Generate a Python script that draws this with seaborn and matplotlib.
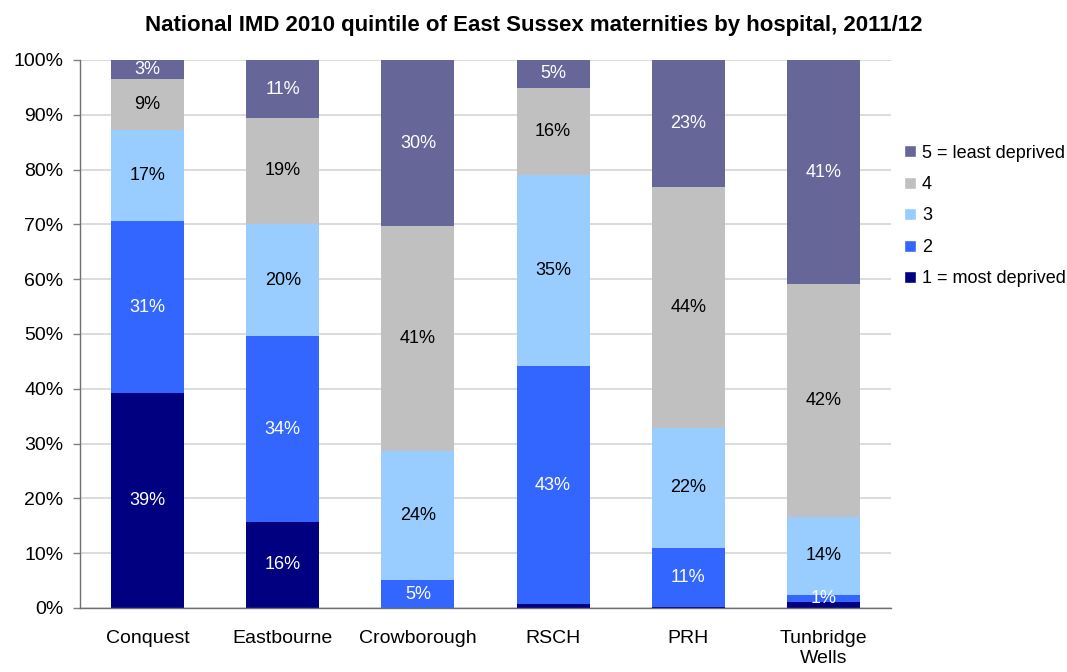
import numpy as np
import pandas as pd
import seaborn as sns
import matplotlib.pyplot as plt
from matplotlib.ticker import FixedLocator, PercentFormatter
from matplotlib.patches import Patch

# Share of maternities (%) per IMD quintile
hospitals = ["Conquest", "Eastbourne", "Crowborough", "RSCH", "PRH", "Tunbridge\nWells"]
q1_most = [39.2, 15.7, 0.0, 0.7, 0.2, 1.1]
q2 = [31.4, 33.9, 5.1, 43.4, 10.8, 1.3]
q3 = [16.6, 20.5, 23.6, 34.9, 21.9, 14.2]
q4 = [9.4, 19.3, 41.0, 15.9, 43.9, 42.5]
q5_least = [3.4, 10.6, 30.3, 5.1, 23.2, 40.9]

quintiles = ["1 = most deprived", "2", "3", "4", "5 = least deprived"]
colours = ["#000080", "#3366FF", "#99CCFF", "#C0C0C0", "#666699"]
label_colours = ["white", "white", "black", "black", "white"]

df = pd.DataFrame({"hospital": hospitals})
for name, vals in zip(quintiles, [q1_most, q2, q3, q4, q5_least]):
    df[name] = vals

sns.set_style("white")
plt.rcParams["font.family"] = ["Liberation Sans", "DejaVu Sans"]
plt.rcParams["text.color"] = "black"
plt.rcParams["xtick.labelcolor"] = "black"
plt.rcParams["ytick.labelcolor"] = "black"

fig = plt.figure(figsize=(10.67, 6.72), dpi=100)
ax = fig.add_axes([80 / 1067, 1 - 608 / 672, 811 / 1067, 548 / 672])

# stacked bars: draw cumulative totals from the top quintile downwards
cum = df[quintiles].cumsum(axis=1)
for i in range(len(quintiles) - 1, -1, -1):
    sns.barplot(x=df["hospital"], y=cum[quintiles[i]], color=colours[i],
                width=0.54, saturation=1, linewidth=0, ax=ax, zorder=2)

# segment labels
for j in range(len(hospitals)):
    bottom = 0
    for i, q in enumerate(quintiles):
        v = df.loc[j, q]
        if v > 1.2:
            ax.text(j, bottom + v / 2, f"{round(v):.0f}%", ha="center", va="center",
                    fontsize=13, color=label_colours[i], zorder=3)
        bottom += v

ax.set_xlim(-0.5, len(hospitals) - 0.5)
ax.set_ylim(0, 100)
ax.set_yticks(np.arange(0, 101, 10))
ax.yaxis.set_major_formatter(PercentFormatter(decimals=0))
ax.grid(axis="y", color="#d9d9d9", linewidth=1.3, zorder=0)
ax.set_axisbelow(True)
ax.set_xlabel("")
ax.set_ylabel("")

# ticks between categories on the x axis
ax.xaxis.set_major_locator(FixedLocator(np.arange(len(hospitals))))
ax.set_xticklabels(hospitals)
ax.xaxis.set_minor_locator(FixedLocator(np.arange(-0.5, len(hospitals), 1)))
ax.tick_params(axis="x", which="major", length=0, pad=16, labelsize=14)
ax.tick_params(axis="x", which="minor", length=5, width=1, color="#808080", direction="out")
ax.tick_params(axis="y", length=5, width=1, color="#808080", direction="out",
               labelsize=14, pad=7, left=True)

for side in ["top", "right"]:
    ax.spines[side].set_visible(False)
for side in ["left", "bottom"]:
    ax.spines[side].set_color("#707070")
    ax.spines[side].set_linewidth(1)

fig.suptitle("National IMD 2010 quintile of East Sussex maternities by hospital, 2011/12",
             fontsize=16, fontweight="bold", x=0.5, y=1 - 26 / 672, va="center")

handles = [Patch(facecolor=colours[i], label=quintiles[i]) for i in range(len(quintiles) - 1, -1, -1)]
fig.legend(handles=handles, loc="center left", bbox_to_anchor=(904 / 1067, 1 - 216 / 672),
           frameon=False, fontsize=13, handlelength=0.65, handleheight=0.65,
           handletextpad=0.35, labelspacing=0.8, borderpad=0, borderaxespad=0)

fig.savefig("out.png", dpi=100)
